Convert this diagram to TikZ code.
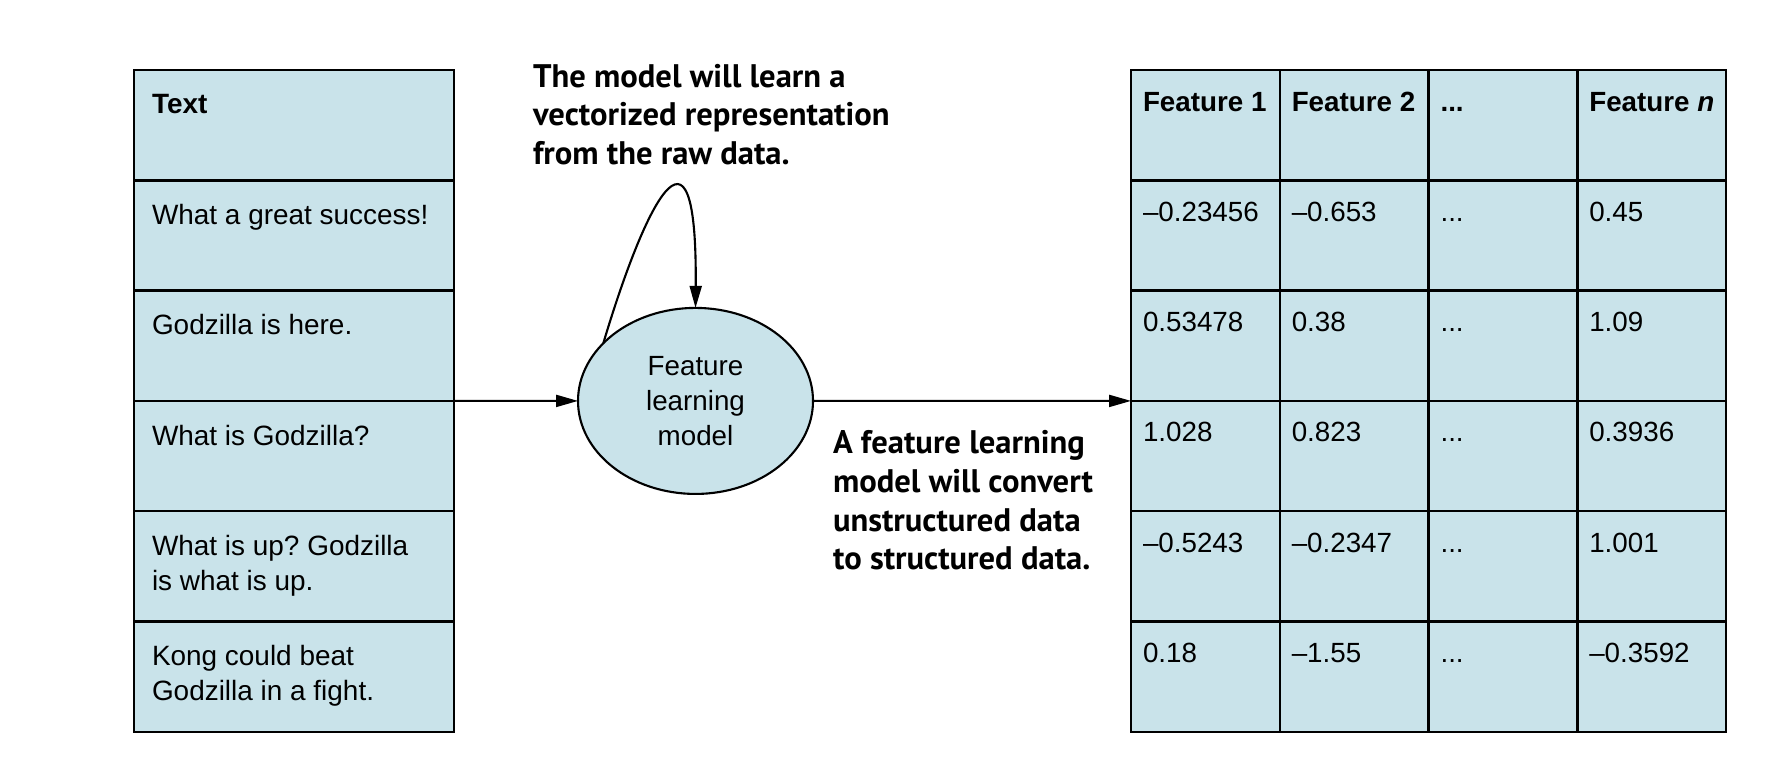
\documentclass[tikz,border=0pt]{standalone}
\usepackage{fontspec}
\setmainfont{Liberation Sans}
\newfontfamily\notefont{PT Sans}
\usetikzlibrary{positioning,shapes.geometric,arrows.meta}
\definecolor{cellblue}{RGB}{201,227,234}
\frenchspacing

\begin{document}
\begin{tikzpicture}
[inner sep=0pt, outer sep=0pt,
>={Triangle[length=2.2mm,width=1.2mm]},
cell/.style={draw, fill=cellblue, line width=0.7pt, anchor=north west, minimum width=3.2cm, minimum height=1.103cm},
fcell/.style={cell, minimum width=1.4875cm},
ltxt/.style={align=left, font=\fontsize{7.95}{9.96}\selectfont},
rtxt/.style={text height=5.7pt, text depth=0pt, font=\fontsize{7.9}{9.96}\selectfont},
note/.style={align=left, anchor=north west, font=\notefont\bfseries\fontsize{9.28}{11}\selectfont},
model/.style={ellipse, draw, fill=cellblue, line width=0.6pt, minimum width=2.35cm, minimum height=1.86cm, align=center, font=\fontsize{7.9}{9.96}\selectfont},
link/.style={->, line width=0.6pt}]
\useasboundingbox (0,0) rectangle (17.68,-7.58);

\node[cell] (t0) at (1.34,-0.70) {};
\node[cell] (t1) at (1.34,-1.803) {};
\node[cell] (t2) at (1.34,-2.906) {};
\node[cell] (t3) at (1.34,-4.009) {};
\node[cell] (t4) at (1.34,-5.112) {};
\node[cell] (t5) at (1.34,-6.215) {};

\node[ltxt, below right=0.24cm and 0.18cm of t0.north west] (t0x) {\textbf{Text}};
\node[ltxt, below right=0.24cm and 0.18cm of t1.north west] (t1x) {What a great success!};
\node[ltxt, below right=0.24cm and 0.18cm of t2.north west] (t2x) {Godzilla is here.};
\node[ltxt, below right=0.24cm and 0.18cm of t3.north west] (t3x) {What is Godzilla?};
\node[ltxt, below right=0.24cm and 0.18cm of t4.north west] (t4x) {What is up? Godzilla\\is what is up.};
\node[ltxt, below right=0.24cm and 0.18cm of t5.north west] (t5x) {Kong could beat\\Godzilla in a fight.};

\node[fcell] (v01) at (11.31,-0.70) {};   \node[fcell] (v02) at (12.7975,-0.70) {};   \node[fcell] (v03) at (14.285,-0.70) {};   \node[fcell] (v04) at (15.7725,-0.70) {};
\node[fcell] (v11) at (11.31,-1.803) {};  \node[fcell] (v12) at (12.7975,-1.803) {};  \node[fcell] (v13) at (14.285,-1.803) {};  \node[fcell] (v14) at (15.7725,-1.803) {};
\node[fcell] (v21) at (11.31,-2.906) {};  \node[fcell] (v22) at (12.7975,-2.906) {};  \node[fcell] (v23) at (14.285,-2.906) {};  \node[fcell] (v24) at (15.7725,-2.906) {};
\node[fcell] (v31) at (11.31,-4.009) {};  \node[fcell] (v32) at (12.7975,-4.009) {};  \node[fcell] (v33) at (14.285,-4.009) {};  \node[fcell] (v34) at (15.7725,-4.009) {};
\node[fcell] (v41) at (11.31,-5.112) {};  \node[fcell] (v42) at (12.7975,-5.112) {};  \node[fcell] (v43) at (14.285,-5.112) {};  \node[fcell] (v44) at (15.7725,-5.112) {};
\node[fcell] (v51) at (11.31,-6.215) {};  \node[fcell] (v52) at (12.7975,-6.215) {};  \node[fcell] (v53) at (14.285,-6.215) {};  \node[fcell] (v54) at (15.7725,-6.215) {};

\node[rtxt, below right=0.21cm and 0.12cm of v01.north west] (v01x) {\textbf{Feature 1}};
\node[rtxt, below right=0.21cm and 0.12cm of v02.north west] (v02x) {\textbf{Feature 2}};
\node[rtxt, below right=0.21cm and 0.12cm of v03.north west] (v03x) {\textbf{...}};
\node[rtxt, below right=0.21cm and 0.12cm of v04.north west] (v04x) {\textbf{Feature \textit{n}}};

\node[rtxt, below right=0.21cm and 0.12cm of v11.north west] (v11x) {–0.23456};
\node[rtxt, below right=0.21cm and 0.12cm of v12.north west] (v12x) {–0.653};
\node[rtxt, below right=0.21cm and 0.12cm of v13.north west] (v13x) {...};
\node[rtxt, below right=0.21cm and 0.12cm of v14.north west] (v14x) {0.45};

\node[rtxt, below right=0.21cm and 0.12cm of v21.north west] (v21x) {0.53478};
\node[rtxt, below right=0.21cm and 0.12cm of v22.north west] (v22x) {0.38};
\node[rtxt, below right=0.21cm and 0.12cm of v23.north west] (v23x) {...};
\node[rtxt, below right=0.21cm and 0.12cm of v24.north west] (v24x) {1.09};

\node[rtxt, below right=0.21cm and 0.12cm of v31.north west] (v31x) {1.028};
\node[rtxt, below right=0.21cm and 0.12cm of v32.north west] (v32x) {0.823};
\node[rtxt, below right=0.21cm and 0.12cm of v33.north west] (v33x) {...};
\node[rtxt, below right=0.21cm and 0.12cm of v34.north west] (v34x) {0.3936};

\node[rtxt, below right=0.21cm and 0.12cm of v41.north west] (v41x) {–0.5243};
\node[rtxt, below right=0.21cm and 0.12cm of v42.north west] (v42x) {–0.2347};
\node[rtxt, below right=0.21cm and 0.12cm of v43.north west] (v43x) {...};
\node[rtxt, below right=0.21cm and 0.12cm of v44.north west] (v44x) {1.001};

\node[rtxt, below right=0.21cm and 0.12cm of v51.north west] (v51x) {0.18};
\node[rtxt, below right=0.21cm and 0.12cm of v52.north west] (v52x) {–1.55};
\node[rtxt, below right=0.21cm and 0.12cm of v53.north west] (v53x) {...};
\node[rtxt, below right=0.21cm and 0.12cm of v54.north west] (v54x) {–0.3592};

\node[model] (fm) at (6.955,-4.009) {Feature\\learning\\model};

\node[note] (learn) at (5.33,-0.64) {The model will learn a\\vectorized representation\\from the raw data.};
\node[note] (convert) at (8.33,-4.305) {A feature learning\\model will convert\\unstructured data\\to structured data.};

\draw[link] (t2.south east) -- (fm.west);
\draw[link] (fm.east) -- (v21.south west);
\draw[link] (fm.148) .. controls +(0.40,1.34) and +(0.02,2.15) .. (fm.north);
\end{tikzpicture}
\end{document}
